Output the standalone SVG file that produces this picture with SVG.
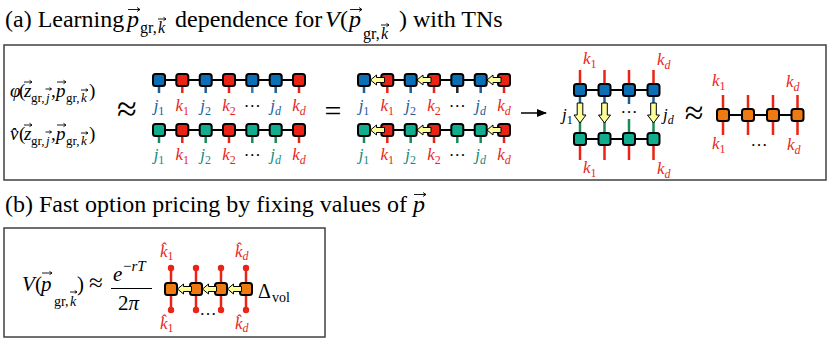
<svg xmlns="http://www.w3.org/2000/svg" width="830" height="339" viewBox="0 0 830 339">
<style>
text{font-family:"Liberation Serif","Times New Roman",serif;fill:#000}
.i{font-style:italic}
.ttl{font-size:24px}
.nb{fill:#0b6fb5}.nr{fill:#ea2314}.nt{fill:#10ae8e}.no{fill:#f07a12}
.lk{stroke:#000;stroke-width:2;fill:none}
.lb{stroke:#1c5f98;stroke-width:2.5}
.lr{stroke:#ea2314;stroke-width:2.5}
.lt{stroke:#1b8a5a;stroke-width:2.5}
.ya{fill:#ffff99;stroke:#000;stroke-width:1;stroke-linejoin:round}
.lab{font-size:17px}
.cb{fill:#1c5d99}.cr{fill:#e8261c}.ct{fill:#178a7c}
.vec{stroke:#000;stroke-width:0.9;fill:none}
.box{fill:none;stroke:#404040;stroke-width:1.5}
</style>
<defs>
<rect id="sq" x="-6" y="-6" width="12" height="12" rx="2.5" stroke="#000" stroke-width="2"/>
<polygon id="la" points="0,0 6,-5 6,-2.5 14,-2.5 14,2.5 6,2.5 6,5" class="ya"/>
<polygon id="da" points="0,0 -6,-8 -2.8,-8 -2.8,-20 2.8,-20 2.8,-8 6,-8" class="ya"/>
<marker id="ah" markerWidth="10" markerHeight="8" refX="9" refY="4" orient="auto" markerUnits="userSpaceOnUse"><path d="M0,0 L10,4 L0,8 Z" fill="#000"/></marker>
</defs>

<!-- Titles -->
<g id="title-a">
<text x="5" y="27" class="ttl">(a) Learning</text>
<text x="127" y="27" class="ttl i">p</text>
<path class="vec" d="M128,9.5 H140 M137,7.5 L140,9.5 L137,11.5"/>
<text x="140" y="33" font-size="16">gr,</text>
<text x="158" y="33" font-size="16" class="i">k</text>
<path class="vec" d="M158,19 H166 M163.5,17.3 L166,19 L163.5,20.7"/>
<text x="175" y="27" class="ttl">dependence for</text>
<text x="325" y="27" class="ttl i">V</text>
<text x="340" y="27" class="ttl">(</text>
<text x="349" y="27" class="ttl i">p</text>
<path class="vec" d="M350,9.5 H362 M359,7.5 L362,9.5 L359,11.5"/>
<text x="363" y="39" font-size="16">gr,</text>
<text x="381" y="39" font-size="16" class="i">k</text>
<path class="vec" d="M381,25 H389 M386.5,23.3 L389,25 L386.5,26.7"/>
<text x="399" y="27" class="ttl">) with TNs</text>
</g>
<g id="title-b">
<text x="5" y="212" class="ttl">(b) Fast option pricing by fixing values of</text>
<text x="413" y="212" class="ttl i">p</text>
<path class="vec" d="M414,194.5 H426 M423,192.5 L426,194.5 L423,196.5"/>
</g>

<!-- Frames -->
<rect id="frame-a" class="box" x="4" y="45" width="822" height="135"/>
<rect id="frame-b" class="box" x="4" y="228" width="321" height="109"/>

<!-- Formulas (a) -->
<g id="phi-formula">
<text x="10" y="97" font-size="19" class="i">φ</text>
<text x="19" y="97" font-size="19">(</text>
<text x="24" y="97" font-size="19" class="i">z</text>
<path class="vec" d="M24,82 H32 M29.5,80.3 L32,82 L29.5,83.7"/>
<text x="31" y="102" font-size="13">gr,</text>
<text x="46" y="102" font-size="13" class="i">j</text>
<path class="vec" d="M45.5,89 H51.5 M49.5,87.6 L51.5,89 L49.5,90.4"/>
<text x="51" y="97" font-size="19">,</text>
<text x="56" y="97" font-size="19" class="i">p</text>
<path class="vec" d="M57,82 H66 M63.5,80.3 L66,82 L63.5,83.7"/>
<text x="66" y="102" font-size="13">gr,</text>
<text x="81" y="102" font-size="13" class="i">k</text>
<path class="vec" d="M81,90 H88 M85.8,88.6 L88,90 L85.8,91.4"/>
<text x="89" y="97" font-size="19">)</text>
</g>
<g id="vhat-formula">
<text x="10" y="140" font-size="19" class="i">v̂</text>
<text x="19" y="140" font-size="19">(</text>
<text x="24" y="140" font-size="19" class="i">z</text>
<path class="vec" d="M24,125 H32 M29.5,123.3 L32,125 L29.5,126.7"/>
<text x="31" y="145" font-size="13">gr,</text>
<text x="46" y="145" font-size="13" class="i">j</text>
<path class="vec" d="M45.5,132 H51.5 M49.5,130.6 L51.5,132 L49.5,133.4"/>
<text x="51" y="140" font-size="19">,</text>
<text x="56" y="140" font-size="19" class="i">p</text>
<path class="vec" d="M57,125 H66 M63.5,123.3 L66,125 L63.5,126.7"/>
<text x="66" y="145" font-size="13">gr,</text>
<text x="81" y="145" font-size="13" class="i">k</text>
<path class="vec" d="M81,133 H88 M85.8,131.6 L88,133 L85.8,134.4"/>
<text x="89" y="140" font-size="19">)</text>
</g>
<text x="127" y="121" font-size="36" text-anchor="middle">≈</text>
<text x="333" y="121" font-size="30" text-anchor="middle">=</text>
<text x="694" y="124" font-size="34" text-anchor="middle">≈</text>

<!-- Connectors -->
<g id="connectors">
<line class="lk" x1="159" y1="80" x2="299" y2="80"/>
<line class="lk" x1="159" y1="130" x2="299" y2="130"/>
<line class="lb" x1="159" y1="86" x2="159" y2="93"/>
<line class="lr" x1="182.3" y1="86" x2="182.3" y2="93"/>
<line class="lb" x1="205.7" y1="86" x2="205.7" y2="93"/>
<line class="lr" x1="229" y1="86" x2="229" y2="93"/>
<line class="lb" x1="252.3" y1="86" x2="252.3" y2="93" style="stroke:#2f7fbf"/>
<line class="lb" x1="275.7" y1="86" x2="275.7" y2="93"/>
<line class="lr" x1="299" y1="86" x2="299" y2="93"/>
<line class="lt" x1="159" y1="136" x2="159" y2="143"/>
<line class="lr" x1="182.3" y1="136" x2="182.3" y2="143"/>
<line class="lt" x1="205.7" y1="136" x2="205.7" y2="143"/>
<line class="lr" x1="229" y1="136" x2="229" y2="143"/>
<line class="lt" x1="252.3" y1="136" x2="252.3" y2="143"/>
<line class="lt" x1="275.7" y1="136" x2="275.7" y2="143"/>
<line class="lr" x1="299" y1="136" x2="299" y2="143"/>
<line class="lk" x1="364" y1="80" x2="504" y2="80"/>
<line class="lk" x1="364" y1="130" x2="504" y2="130"/>
<line class="lb" x1="364" y1="86" x2="364" y2="93"/>
<line class="lr" x1="387.3" y1="86" x2="387.3" y2="93"/>
<line class="lb" x1="410.7" y1="86" x2="410.7" y2="93"/>
<line class="lr" x1="434" y1="86" x2="434" y2="93"/>
<line class="lb" x1="457.3" y1="86" x2="457.3" y2="93" style="stroke:#222"/>
<line class="lb" x1="480.7" y1="86" x2="480.7" y2="93"/>
<line class="lr" x1="504" y1="86" x2="504" y2="93"/>
<line class="lt" x1="364" y1="136" x2="364" y2="143"/>
<line class="lr" x1="387.3" y1="136" x2="387.3" y2="143"/>
<line class="lt" x1="410.7" y1="136" x2="410.7" y2="143"/>
<line class="lr" x1="434" y1="136" x2="434" y2="143"/>
<line class="lt" x1="457.3" y1="136" x2="457.3" y2="143"/>
<line class="lt" x1="480.7" y1="136" x2="480.7" y2="143"/>
<line class="lr" x1="504" y1="136" x2="504" y2="143"/>
<line x1="521" y1="113" x2="546" y2="113" stroke="#000" stroke-width="1.5" marker-end="url(#ah)"/>
<line class="lk" x1="580" y1="90" x2="653.5" y2="90"/>
<line class="lk" x1="580" y1="139" x2="653.5" y2="139"/>
<line class="lr" x1="580" y1="70" x2="580" y2="84"/>
<line class="lr" x1="604.5" y1="70" x2="604.5" y2="84"/>
<line class="lr" x1="629" y1="70" x2="629" y2="84"/>
<line class="lr" x1="653.5" y1="70" x2="653.5" y2="84"/>
<line class="lr" x1="580" y1="145" x2="580" y2="160"/>
<line class="lr" x1="604.5" y1="145" x2="604.5" y2="160"/>
<line class="lr" x1="629" y1="145" x2="629" y2="160"/>
<line class="lr" x1="653.5" y1="145" x2="653.5" y2="160"/>
<line class="lb" x1="580" y1="96" x2="580" y2="114"/>
<line class="lt" x1="580" y1="114" x2="580" y2="133"/>
<line class="lb" x1="604.5" y1="96" x2="604.5" y2="114"/>
<line class="lt" x1="604.5" y1="114" x2="604.5" y2="133"/>
<line class="lb" x1="629" y1="96" x2="629" y2="104"/>
<line class="lt" x1="629" y1="119" x2="629" y2="133"/>
<line class="lb" x1="653.5" y1="96" x2="653.5" y2="114"/>
<line class="lt" x1="653.5" y1="114" x2="653.5" y2="133"/>
<line class="lk" x1="723" y1="115" x2="797.5" y2="115"/>
<line class="lr" x1="723" y1="95" x2="723" y2="109"/>
<line class="lr" x1="748" y1="95" x2="748" y2="109"/>
<line class="lr" x1="773" y1="95" x2="773" y2="109"/>
<line class="lr" x1="797.5" y1="95" x2="797.5" y2="109"/>
<line class="lr" x1="723" y1="121" x2="723" y2="135"/>
<line class="lr" x1="748" y1="121" x2="748" y2="135"/>
<line class="lr" x1="773" y1="121" x2="773" y2="135"/>
<line class="lr" x1="797.5" y1="121" x2="797.5" y2="135"/>
<g fill="#ea2314">
<line class="lr" x1="171" y1="268" x2="171" y2="310"/>
<line class="lr" x1="196" y1="268" x2="196" y2="310"/>
<line class="lr" x1="221" y1="268" x2="221" y2="310"/>
<line class="lr" x1="246" y1="268" x2="246" y2="310"/>
<circle cx="171" cy="268" r="3.2"/><circle cx="196" cy="268" r="3.2"/><circle cx="221" cy="268" r="3.2"/><circle cx="246" cy="268" r="3.2"/>
<circle cx="171" cy="310" r="3.2"/><circle cx="196" cy="310" r="3.2"/><circle cx="221" cy="310" r="3.2"/><circle cx="246" cy="310" r="3.2"/>
</g>
</g>

<!-- Nodes -->
<g id="phi-tt">
<g id="phi-n1"><use href="#sq" x="159" y="80" class="nb"/></g>
<g id="phi-n2"><use href="#sq" x="182.3" y="80" class="nr"/></g>
<g id="phi-n3"><use href="#sq" x="205.7" y="80" class="nb"/></g>
<g id="phi-n4"><use href="#sq" x="229" y="80" class="nr"/></g>
<g id="phi-n5"><use href="#sq" x="252.3" y="80" class="nb"/></g>
<g id="phi-n6"><use href="#sq" x="275.7" y="80" class="nb"/></g>
<g id="phi-n7"><use href="#sq" x="299" y="80" class="nr"/></g>
</g>
<g id="v-tt">
<g id="v-n1"><use href="#sq" x="159" y="130" class="nt"/></g>
<g id="v-n2"><use href="#sq" x="182.3" y="130" class="nr"/></g>
<g id="v-n3"><use href="#sq" x="205.7" y="130" class="nt"/></g>
<g id="v-n4"><use href="#sq" x="229" y="130" class="nr"/></g>
<g id="v-n5"><use href="#sq" x="252.3" y="130" class="nt"/></g>
<g id="v-n6"><use href="#sq" x="275.7" y="130" class="nt"/></g>
<g id="v-n7"><use href="#sq" x="299" y="130" class="nr"/></g>
</g>
<g id="phi2-tt">
<g id="phi2-n1"><use href="#sq" x="364" y="80" class="nb"/></g>
<g id="phi2-n2"><use href="#sq" x="387.3" y="80" class="nr"/></g>
<g id="phi2-n3"><use href="#sq" x="410.7" y="80" class="nb"/></g>
<g id="phi2-n4"><use href="#sq" x="434" y="80" class="nr"/></g>
<g id="phi2-n5"><use href="#sq" x="457.3" y="80" class="nb"/></g>
<g id="phi2-n6"><use href="#sq" x="480.7" y="80" class="nb"/></g>
<g id="phi2-n7"><use href="#sq" x="504" y="80" class="nr"/></g>
</g>
<g id="v2-tt">
<g id="v2-n1"><use href="#sq" x="364" y="130" class="nt"/></g>
<g id="v2-n2"><use href="#sq" x="387.3" y="130" class="nr"/></g>
<g id="v2-n3"><use href="#sq" x="410.7" y="130" class="nt"/></g>
<g id="v2-n4"><use href="#sq" x="434" y="130" class="nr"/></g>
<g id="v2-n5"><use href="#sq" x="457.3" y="130" class="nt"/></g>
<g id="v2-n6"><use href="#sq" x="480.7" y="130" class="nt"/></g>
<g id="v2-n7"><use href="#sq" x="504" y="130" class="nr"/></g>
</g>
<g id="ladder">
<g id="lad-t1"><use href="#sq" x="580" y="90" class="nb"/></g>
<g id="lad-t2"><use href="#sq" x="604.5" y="90" class="nb"/></g>
<g id="lad-t3"><use href="#sq" x="629" y="90" class="nb"/></g>
<g id="lad-t4"><use href="#sq" x="653.5" y="90" class="nb"/></g>
<g id="lad-b1"><use href="#sq" x="580" y="139" class="nt"/></g>
<g id="lad-b2"><use href="#sq" x="604.5" y="139" class="nt"/></g>
<g id="lad-b3"><use href="#sq" x="629" y="139" class="nt"/></g>
<g id="lad-b4"><use href="#sq" x="653.5" y="139" class="nt"/></g>
</g>
<g id="v-tt-approx">
<g id="o-n1"><use href="#sq" x="723" y="115" class="no"/></g>
<g id="o-n2"><use href="#sq" x="748" y="115" class="no"/></g>
<g id="o-n3"><use href="#sq" x="773" y="115" class="no"/></g>
<g id="o-n4"><use href="#sq" x="797.5" y="115" class="no"/></g>
</g>
<g id="b-tt">
<g id="b-n1"><use href="#sq" x="171" y="289" class="no"/></g>
<g id="b-n2"><use href="#sq" x="196" y="289" class="no"/></g>
<g id="b-n3"><use href="#sq" x="221" y="289" class="no"/></g>
<g id="b-n4"><use href="#sq" x="246" y="289" class="no"/></g>
</g>

<!-- Yellow gauge arrows -->
<g id="gauge-arrows">
<use href="#la" x="370.5" y="80"/><use href="#la" x="417" y="80"/><use href="#la" x="487" y="80"/>
<use href="#la" x="370.5" y="130"/><use href="#la" x="417" y="130"/><use href="#la" x="487" y="130"/>
<use href="#da" x="580" y="123"/><use href="#da" x="604.5" y="123"/><use href="#da" x="653.5" y="123"/>
<use href="#la" x="177.5" y="289"/><use href="#la" x="202.5" y="289"/><use href="#la" x="227.5" y="289"/>
</g>

<!-- Index labels -->
<g id="labels-g1" class="lab">
<text x="159" y="111" text-anchor="middle" class="cb"><tspan class="i">j</tspan><tspan font-size="12" dy="4">1</tspan></text>
<text x="182.3" y="111" text-anchor="middle" class="cr"><tspan class="i">k</tspan><tspan font-size="12" dy="4">1</tspan></text>
<text x="205.7" y="111" text-anchor="middle" class="cb"><tspan class="i">j</tspan><tspan font-size="12" dy="4">2</tspan></text>
<text x="229" y="111" text-anchor="middle" class="cr"><tspan class="i">k</tspan><tspan font-size="12" dy="4">2</tspan></text>
<text x="252.3" y="107" text-anchor="middle">…</text>
<text x="275.7" y="111" text-anchor="middle" class="cb"><tspan class="i">j</tspan><tspan font-size="12" dy="4" class="i">d</tspan></text>
<text x="299" y="111" text-anchor="middle" class="cr"><tspan class="i">k</tspan><tspan font-size="12" dy="4" class="i">d</tspan></text>
<text x="159" y="160" text-anchor="middle" class="ct"><tspan class="i">j</tspan><tspan font-size="12" dy="4">1</tspan></text>
<text x="182.3" y="160" text-anchor="middle" class="cr"><tspan class="i">k</tspan><tspan font-size="12" dy="4">1</tspan></text>
<text x="205.7" y="160" text-anchor="middle" class="ct"><tspan class="i">j</tspan><tspan font-size="12" dy="4">2</tspan></text>
<text x="229" y="160" text-anchor="middle" class="cr"><tspan class="i">k</tspan><tspan font-size="12" dy="4">2</tspan></text>
<text x="252.3" y="156" text-anchor="middle">…</text>
<text x="275.7" y="160" text-anchor="middle" class="ct"><tspan class="i">j</tspan><tspan font-size="12" dy="4" class="i">d</tspan></text>
<text x="299" y="160" text-anchor="middle" class="cr"><tspan class="i">k</tspan><tspan font-size="12" dy="4" class="i">d</tspan></text>
</g>
<g id="labels-g2" class="lab">
<text x="364" y="111" text-anchor="middle" class="cb"><tspan class="i">j</tspan><tspan font-size="12" dy="4">1</tspan></text>
<text x="387.3" y="111" text-anchor="middle" class="cr"><tspan class="i">k</tspan><tspan font-size="12" dy="4">1</tspan></text>
<text x="410.7" y="111" text-anchor="middle" class="cb"><tspan class="i">j</tspan><tspan font-size="12" dy="4">2</tspan></text>
<text x="434" y="111" text-anchor="middle" class="cr"><tspan class="i">k</tspan><tspan font-size="12" dy="4">2</tspan></text>
<text x="457.3" y="107" text-anchor="middle">…</text>
<text x="480.7" y="111" text-anchor="middle" class="cb"><tspan class="i">j</tspan><tspan font-size="12" dy="4" class="i">d</tspan></text>
<text x="504" y="111" text-anchor="middle" class="cr"><tspan class="i">k</tspan><tspan font-size="12" dy="4" class="i">d</tspan></text>
<text x="364" y="160" text-anchor="middle" class="ct"><tspan class="i">j</tspan><tspan font-size="12" dy="4">1</tspan></text>
<text x="387.3" y="160" text-anchor="middle" class="cr"><tspan class="i">k</tspan><tspan font-size="12" dy="4">1</tspan></text>
<text x="410.7" y="160" text-anchor="middle" class="ct"><tspan class="i">j</tspan><tspan font-size="12" dy="4">2</tspan></text>
<text x="434" y="160" text-anchor="middle" class="cr"><tspan class="i">k</tspan><tspan font-size="12" dy="4">2</tspan></text>
<text x="457.3" y="156" text-anchor="middle">…</text>
<text x="480.7" y="160" text-anchor="middle" class="ct"><tspan class="i">j</tspan><tspan font-size="12" dy="4" class="i">d</tspan></text>
<text x="504" y="160" text-anchor="middle" class="cr"><tspan class="i">k</tspan><tspan font-size="12" dy="4" class="i">d</tspan></text>
</g>
<g id="labels-ladder" class="lab">
<text x="583" y="64" class="cr"><tspan class="i">k</tspan><tspan font-size="12" dy="4">1</tspan></text>
<text x="657" y="65" class="cr"><tspan class="i">k</tspan><tspan font-size="12" dy="4" class="i">d</tspan></text>
<text x="583" y="173" class="cr"><tspan class="i">k</tspan><tspan font-size="12" dy="4">1</tspan></text>
<text x="657" y="174" class="cr"><tspan class="i">k</tspan><tspan font-size="12" dy="4" class="i">d</tspan></text>
<text x="562" y="120"><tspan class="i">j</tspan><tspan font-size="12" dy="4">1</tspan></text>
<text x="663" y="120"><tspan class="i">j</tspan><tspan font-size="12" dy="4" class="i">d</tspan></text>
<text x="629" y="113" text-anchor="middle">…</text>
</g>
<g id="labels-orange" class="lab">
<text x="712" y="86" class="cr"><tspan class="i">k</tspan><tspan font-size="12" dy="4">1</tspan></text>
<text x="786" y="87" class="cr"><tspan class="i">k</tspan><tspan font-size="12" dy="4" class="i">d</tspan></text>
<text x="712" y="149" class="cr"><tspan class="i">k</tspan><tspan font-size="12" dy="4">1</tspan></text>
<text x="787" y="150" class="cr"><tspan class="i">k</tspan><tspan font-size="12" dy="4" class="i">d</tspan></text>
<text x="759" y="146" text-anchor="middle">…</text>
</g>

<!-- (b) formula -->
<g id="price-formula">
<text x="22" y="291" font-size="21" class="i">V</text>
<text x="35" y="291" font-size="21">(</text>
<text x="41" y="291" font-size="21" class="i">p</text>
<path class="vec" d="M42,273 H52 M49.5,271.3 L52,273 L49.5,274.7"/>
<text x="54" y="306" font-size="14">gr,</text>
<text x="70" y="306" font-size="14" class="i">k</text>
<path class="vec" d="M70,292 H77 M74.8,290.6 L77,292 L74.8,293.4"/>
<text x="77" y="291" font-size="21">)</text>
<text x="89" y="291" font-size="25">≈</text>
<text x="113" y="281" font-size="21" class="i">e</text>
<text x="123" y="271" font-size="15">−<tspan class="i">rT</tspan></text>
<line x1="111" y1="288.5" x2="152" y2="288.5" stroke="#000" stroke-width="1.2"/>
<text x="118" y="310" font-size="21">2<tspan class="i">π</tspan></text>
</g>
<g id="labels-b" class="lab">
<text x="160" y="257" class="cr"><tspan class="i">k̂</tspan><tspan font-size="12" dy="3">1</tspan></text>
<text x="235" y="257" class="cr"><tspan class="i">k̂</tspan><tspan font-size="12" dy="3" class="i">d</tspan></text>
<text x="160" y="329" class="cr"><tspan class="i">k̂</tspan><tspan font-size="12" dy="3">1</tspan></text>
<text x="235" y="329" class="cr"><tspan class="i">k̂</tspan><tspan font-size="12" dy="3" class="i">d</tspan></text>
<text x="208" y="315" text-anchor="middle">…</text>
</g>
<g id="delta-vol">
<text x="258" y="298" font-size="20">Δ</text>
<text x="272" y="302" font-size="14">vol</text>
</g>
</svg>
